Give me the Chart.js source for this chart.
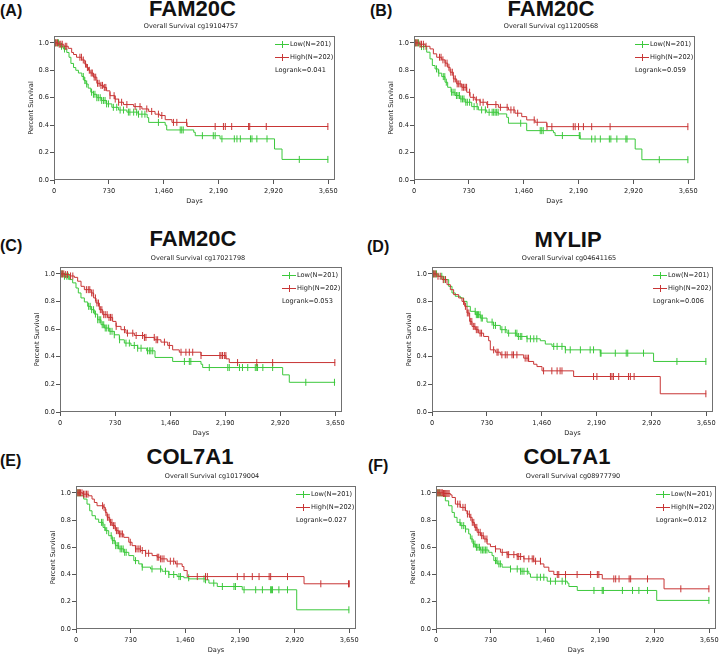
<!DOCTYPE html>
<html>
<head>
<meta charset="utf-8">
<script src="https://cdn.jsdelivr.net/npm/chart.js@4.4.1/dist/chart.umd.min.js"></script>
<style>
  body { margin: 0; width: 720px; height: 657px; background: #fff; position: relative; overflow: hidden;
         font-family: 'Liberation Sans', Arial, sans-serif; color: #111; }
  .tag { position: absolute; font-weight: bold; font-size: 16px; line-height: 1; }
  .gene { position: absolute; font-weight: bold; font-size: 22px; line-height: 1; transform: translateX(-50%); white-space: nowrap; }
  canvas { position: absolute; }
</style>
</head>
<body>
<script>
// ---- data (days / survival fraction / censored days) ----
const xTicks = [0, 730, 1460, 2190, 2920, 3650];
const yTicks = [0, 0.2, 0.4, 0.6, 0.8, 1.0];

const panelIds = ['A', 'B', 'C', 'D', 'E', 'F'];
const geneNames = ['FAM20C', 'FAM20C', 'FAM20C', 'MYLIP', 'COL7A1', 'COL7A1'];
const probeIds = ['cg19104757', 'cg11200568', 'cg17021798', 'cg04641165', 'cg10179004', 'cg08977790'];
const logrankP = ['0.041', '0.059', '0.053', '0.006', '0.027', '0.012'];
const lowLabel = 'Low(N=201)';
const highLabel = 'High(N=202)';

// (A) FAM20C cg19104757
const A_lowDays = [0, 80, 125, 170, 200, 225, 260, 290, 325, 370, 400, 425, 455, 490, 525, 570, 635, 700, 770, 860, 970, 1120, 1240, 1260, 1480, 1500, 1860, 1880, 2210, 2935, 3035, 3650];
const A_lowSurv = [1.0, 0.975, 0.955, 0.93, 0.895, 0.85, 0.82, 0.80, 0.78, 0.755, 0.725, 0.70, 0.67, 0.64, 0.625, 0.60, 0.58, 0.555, 0.53, 0.51, 0.495, 0.48, 0.455, 0.42, 0.40, 0.365, 0.348, 0.323, 0.30, 0.226, 0.15, 0.15];
const A_lowCens = [20, 45, 60, 100, 140, 390, 410, 435, 500, 525, 545, 570, 590, 615, 635, 660, 680, 700, 725, 790, 835, 880, 925, 990, 1010, 1060, 1100, 1125, 1170, 1210, 1390, 1680, 1700, 1720, 1975, 2120, 2145, 2235, 2400, 2435, 2480, 2615, 2635, 2700, 2835, 3265, 3645];
const A_highDays = [0, 60, 130, 190, 235, 260, 300, 370, 410, 435, 460, 480, 525, 570, 615, 660, 700, 745, 810, 860, 925, 1060, 1170, 1260, 1345, 1410, 1480, 1570, 1770, 3650];
const A_highSurv = [1.0, 0.99, 0.975, 0.96, 0.93, 0.915, 0.895, 0.875, 0.845, 0.82, 0.80, 0.78, 0.75, 0.705, 0.69, 0.675, 0.65, 0.615, 0.59, 0.567, 0.55, 0.535, 0.518, 0.50, 0.48, 0.47, 0.44, 0.42, 0.39, 0.39];
const A_highCens = [15, 30, 45, 70, 90, 110, 150, 170, 345, 365, 390, 420, 445, 470, 495, 510, 535, 555, 580, 600, 625, 645, 670, 690, 745, 800, 815, 860, 900, 970, 1080, 1145, 1235, 1300, 1390, 1435, 1590, 1635, 1765, 2145, 2255, 2280, 2365, 2590, 2605, 2825, 3645];

// (B) FAM20C cg11200568
const B_lowDays = [0, 80, 169, 213, 244, 280, 324, 369, 413, 448, 493, 546, 613, 680, 768, 857, 968, 1123, 1234, 1257, 1500, 1856, 1878, 2211, 2944, 3033, 3650];
const B_lowSurv = [1.0, 0.973, 0.932, 0.883, 0.835, 0.81, 0.779, 0.754, 0.713, 0.676, 0.64, 0.616, 0.591, 0.567, 0.535, 0.511, 0.494, 0.482, 0.457, 0.414, 0.36, 0.345, 0.324, 0.299, 0.226, 0.148, 0.148];
const B_lowCens = [20, 40, 60, 100, 130, 300, 330, 390, 410, 430, 500, 520, 545, 565, 585, 605, 625, 645, 665, 690, 710, 740, 800, 840, 900, 950, 1000, 1040, 1060, 1080, 1100, 1120, 1420, 1680, 1700, 1720, 1975, 2200, 2210, 2365, 2410, 2480, 2600, 2620, 2700, 2820, 2835, 3265, 3645];
const B_highDays = [0, 70, 150, 213, 258, 302, 369, 413, 448, 480, 524, 568, 635, 702, 746, 813, 879, 968, 1123, 1257, 1345, 1434, 1500, 1612, 1767, 3650];
const B_highSurv = [1.0, 0.99, 0.975, 0.956, 0.92, 0.895, 0.876, 0.852, 0.822, 0.786, 0.737, 0.701, 0.676, 0.64, 0.603, 0.584, 0.567, 0.55, 0.53, 0.511, 0.487, 0.462, 0.438, 0.421, 0.389, 0.389];
const B_highCens = [15, 30, 50, 80, 100, 125, 160, 340, 360, 385, 415, 440, 465, 490, 510, 530, 550, 575, 595, 615, 640, 660, 680, 700, 740, 790, 830, 880, 920, 980, 1090, 1150, 1240, 1290, 1330, 1380, 1600, 1640, 1770, 1835, 2120, 2145, 2190, 2255, 2365, 2610, 3645];

// (C) FAM20C cg17021798
const C_lowDays = [0, 57, 124, 168, 212, 243, 278, 323, 367, 411, 455, 499, 544, 588, 654, 720, 787, 853, 941, 1030, 1150, 1260, 1494, 1870, 1892, 2953, 3041, 3650];
const C_lowSurv = [1.0, 0.983, 0.959, 0.935, 0.898, 0.862, 0.826, 0.797, 0.765, 0.741, 0.709, 0.668, 0.632, 0.608, 0.584, 0.559, 0.523, 0.499, 0.482, 0.462, 0.443, 0.395, 0.366, 0.346, 0.322, 0.269, 0.215, 0.215];
const C_lowCens = [15, 35, 60, 90, 110, 380, 400, 420, 445, 470, 500, 520, 540, 560, 580, 600, 620, 645, 665, 690, 720, 790, 875, 920, 985, 1030, 1075, 1160, 1185, 1205, 1230, 1650, 1715, 1735, 1980, 2225, 2245, 2380, 2420, 2490, 2590, 2610, 2620, 2690, 2820, 3260, 3640];
const C_highDays = [0, 60, 130, 190, 234, 279, 323, 411, 446, 477, 522, 566, 632, 698, 743, 809, 875, 986, 1118, 1251, 1339, 1428, 1494, 1582, 1870, 2201, 2245, 3650];
const C_highSurv = [1.0, 0.995, 0.985, 0.975, 0.947, 0.91, 0.886, 0.862, 0.826, 0.789, 0.741, 0.705, 0.685, 0.656, 0.62, 0.596, 0.571, 0.554, 0.54, 0.523, 0.506, 0.482, 0.45, 0.433, 0.409, 0.385, 0.358, 0.358];
const C_highCens = [15, 30, 50, 75, 100, 140, 170, 350, 375, 395, 420, 440, 470, 490, 510, 535, 555, 580, 600, 625, 650, 670, 690, 745, 855, 895, 965, 1010, 1095, 1120, 1140, 1250, 1275, 1295, 1385, 1450, 1605, 1670, 1715, 1760, 1870, 2120, 2135, 2155, 2180, 2200, 2355, 2610, 2820, 3645];

// (D) MYLIP cg04641165
const D_lowDays = [0, 89, 155, 222, 266, 310, 377, 421, 466, 510, 577, 643, 732, 820, 909, 998, 1131, 1264, 1441, 1508, 1597, 1774, 2240, 2949, 3650];
const D_lowSurv = [1.0, 0.983, 0.959, 0.91, 0.862, 0.838, 0.826, 0.801, 0.765, 0.729, 0.705, 0.68, 0.651, 0.627, 0.596, 0.571, 0.547, 0.53, 0.516, 0.492, 0.475, 0.45, 0.426, 0.366, 0.366];
const D_lowCens = [20, 40, 60, 130, 160, 575, 590, 605, 620, 640, 655, 670, 800, 820, 845, 930, 975, 1020, 1110, 1130, 1150, 1175, 1195, 1265, 1310, 1355, 1395, 1620, 1665, 1730, 1775, 1840, 1975, 2105, 2150, 2240, 2250, 2440, 2585, 2605, 2815, 3260, 3645];
const D_highDays = [0, 67, 133, 200, 244, 288, 355, 399, 435, 466, 501, 532, 577, 621, 687, 754, 776, 843, 909, 1220, 1286, 1353, 1397, 1464, 1885, 3038, 3650];
const D_highSurv = [1.0, 0.983, 0.959, 0.922, 0.886, 0.85, 0.826, 0.801, 0.765, 0.717, 0.656, 0.62, 0.596, 0.571, 0.547, 0.516, 0.45, 0.433, 0.414, 0.39, 0.366, 0.346, 0.329, 0.298, 0.257, 0.132, 0.132];
const D_highCens = [15, 30, 50, 80, 110, 150, 180, 420, 445, 470, 490, 510, 530, 550, 570, 590, 610, 640, 660, 820, 865, 880, 930, 975, 1000, 1065, 1085, 1130, 1240, 1265, 1285, 1485, 1595, 1665, 1705, 1730, 2150, 2195, 2375, 2395, 2415, 2485, 2615, 2640, 2690, 3645];

// (E) COL7A1 cg10179004
const E_lowDays = [0, 58, 103, 147, 183, 214, 259, 303, 361, 392, 437, 482, 526, 571, 638, 705, 772, 838, 883, 995, 1151, 1240, 1351, 1441, 1507, 1730, 1775, 1887, 2221, 2948, 3650];
const E_lowSurv = [1.0, 0.978, 0.954, 0.917, 0.868, 0.832, 0.807, 0.783, 0.746, 0.722, 0.685, 0.649, 0.612, 0.588, 0.563, 0.539, 0.502, 0.478, 0.454, 0.441, 0.424, 0.40, 0.385, 0.376, 0.368, 0.361, 0.337, 0.312, 0.288, 0.141, 0.141];
const E_lowCens = [15, 30, 45, 340, 360, 385, 410, 470, 490, 510, 530, 550, 570, 590, 610, 630, 650, 670, 795, 885, 1015, 1130, 1195, 1240, 1305, 1375, 1395, 1505, 1710, 1730, 1840, 1955, 2110, 2130, 2245, 2400, 2490, 2600, 2610, 2625, 2710, 2825, 3645];
const E_highDays = [0, 90, 169, 214, 245, 281, 370, 392, 415, 450, 482, 526, 571, 638, 705, 749, 794, 861, 928, 1017, 1084, 1128, 1218, 1329, 1418, 1441, 1485, 3046, 3650];
const E_highSurv = [1.0, 0.99, 0.978, 0.954, 0.929, 0.905, 0.893, 0.856, 0.82, 0.783, 0.759, 0.722, 0.698, 0.673, 0.637, 0.612, 0.588, 0.576, 0.556, 0.539, 0.527, 0.515, 0.498, 0.478, 0.459, 0.429, 0.385, 0.332, 0.332];
const E_highCens = [15, 30, 45, 60, 80, 100, 120, 140, 160, 355, 375, 400, 420, 440, 460, 480, 500, 520, 540, 560, 580, 600, 620, 725, 795, 815, 840, 860, 885, 930, 970, 1085, 1105, 1130, 1150, 1175, 1260, 1305, 1350, 1620, 1730, 1755, 2155, 2245, 2355, 2445, 2580, 2600, 2825, 3270, 3640, 3650];

// (F) COL7A1 cg08977790
const F_lowDays = [0, 58, 125, 169, 214, 245, 281, 326, 392, 437, 459, 495, 526, 593, 705, 749, 772, 816, 883, 995, 1128, 1240, 1262, 1485, 1753, 1775, 1887, 2948, 3650];
const F_lowSurv = [1.0, 0.978, 0.941, 0.905, 0.856, 0.82, 0.783, 0.759, 0.734, 0.698, 0.661, 0.624, 0.60, 0.58, 0.563, 0.539, 0.502, 0.478, 0.454, 0.441, 0.424, 0.405, 0.38, 0.351, 0.337, 0.312, 0.283, 0.21, 0.21];
const F_lowCens = [15, 30, 45, 320, 345, 370, 395, 480, 500, 520, 540, 560, 580, 600, 620, 640, 660, 680, 795, 815, 840, 860, 995, 1085, 1130, 1150, 1175, 1220, 1350, 1395, 1440, 1530, 1595, 1685, 1730, 2110, 2220, 2235, 2490, 2625, 2710, 2825, 3645];
const F_highDays = [0, 100, 192, 214, 259, 326, 392, 415, 450, 482, 513, 549, 593, 638, 682, 727, 794, 861, 950, 1084, 1173, 1307, 1396, 1441, 1507, 1574, 2221, 3046, 3650];
const F_highSurv = [1.0, 0.995, 0.985, 0.966, 0.917, 0.893, 0.868, 0.844, 0.82, 0.783, 0.746, 0.71, 0.685, 0.661, 0.624, 0.605, 0.588, 0.563, 0.546, 0.532, 0.515, 0.498, 0.478, 0.454, 0.424, 0.40, 0.368, 0.295, 0.295];
const F_highCens = [10, 25, 40, 55, 70, 85, 100, 115, 130, 145, 160, 175, 290, 320, 360, 390, 420, 445, 465, 485, 505, 525, 545, 565, 590, 610, 630, 655, 680, 795, 885, 950, 970, 1040, 1085, 1105, 1130, 1175, 1240, 1285, 1305, 1330, 1395, 1620, 1640, 1730, 1885, 2065, 2155, 2175, 2375, 2400, 2445, 2580, 2600, 2825, 3270, 3645];

const panelSeries = [
  [A_lowDays, A_lowSurv, A_lowCens, A_highDays, A_highSurv, A_highCens],
  [B_lowDays, B_lowSurv, B_lowCens, B_highDays, B_highSurv, B_highCens],
  [C_lowDays, C_lowSurv, C_lowCens, C_highDays, C_highSurv, C_highCens],
  [D_lowDays, D_lowSurv, D_lowCens, D_highDays, D_highSurv, D_highCens],
  [E_lowDays, E_lowSurv, E_lowCens, E_highDays, E_highSurv, E_highCens],
  [F_lowDays, F_lowSurv, F_lowCens, F_highDays, F_highSurv, F_highCens]
];

// ---- layout (page pixels) ----
// plot box: left, right, top, bottom
const plotBoxes = [[54, 335, 36, 180], [414, 695, 36, 180], [60, 342, 267, 412],
                   [432, 713, 267, 412], [76, 356, 486, 629], [436, 716, 486, 629]];
const tagPos = [[0, 10.5], [370, 10.5], [0, 246], [367, 247], [0, 461], [368, 466]];
const genePos = [[192.5, 9], [551, 9], [193, 238.5], [568, 240], [190, 457], [567, 457]];
const subPos = [[191, 26], [551, 26], [198, 258], [569, 258], [212, 476], [573, 476]];
const padTop = 20;

const lowColor = '#3cc83c';
const highColor = '#c83535';
const textColor = '#222';
const axisColor = '#555';
const frameColor = '#707070';
const smallFamily = "'DejaVu Sans', Verdana, sans-serif";
const smallFont = { family: smallFamily, size: 6.6 };

function stepAt(days, surv, t) {
  let v = surv[0];
  for (let i = 0; i < days.length; i++) {
    if (days[i] <= t) v = surv[i]; else break;
  }
  return v;
}

function addText(cls, txt, x, y, size) {
  const d = document.createElement('div');
  d.className = cls;
  d.textContent = txt;
  d.style.left = x + 'px';
  d.style.top = (y - 0.49 * size) + 'px';
  document.body.appendChild(d);
}

// frame round the plot, subtitle above it, legend box inside it
const kmLegend = {
  id: 'kmLegend',
  afterDraw(chart, args, opts) {
    const { ctx, chartArea: { left, top, right, bottom } } = chart;
    ctx.save();
    ctx.strokeStyle = frameColor;
    ctx.lineWidth = 1;
    ctx.strokeRect(left + 0.5, top + 0.5, right - left - 1, bottom - top - 1);

    ctx.fillStyle = textColor;
    ctx.textBaseline = 'middle';
    ctx.textAlign = 'center';
    ctx.font = '6.5px ' + smallFamily;
    ctx.fillText(opts.sub, opts.sx, opts.sy);

    ctx.textAlign = 'left';
    ctx.font = '6.6px ' + smallFamily;
    [[lowLabel, lowColor], [highLabel, highColor]].forEach(([txt, col], k) => {
      const y = Math.round(top + 8 + k * 13.3) + 0.5;
      const x0 = right - 60;
      ctx.strokeStyle = col;
      ctx.beginPath();
      ctx.moveTo(x0, y); ctx.lineTo(x0 + 14, y);
      ctx.moveTo(x0 + 7.5, y - 3.5); ctx.lineTo(x0 + 7.5, y + 3.5);
      ctx.stroke();
      ctx.fillStyle = textColor;
      ctx.fillText(txt, right - 45, y);
    });
    ctx.fillStyle = textColor;
    ctx.fillText('Logrank=' + opts.p, right - 60, top + 34);
    ctx.restore();
  }
};

panelIds.forEach((id, i) => {
  const [L, R, T, B] = plotBoxes[i];
  const [lowDays, lowSurv, lowCens, highDays, highSurv, highCens] = panelSeries[i];

  addText('tag', '(' + id + ')', tagPos[i][0], tagPos[i][1], 16);
  addText('gene', geneNames[i], genePos[i][0], genePos[i][1], 22);

  const cx = L - 32, cy = T - padTop;
  const cv = document.createElement('canvas');
  cv.width = R - L + 44;
  cv.height = B - T + padTop + 28;
  cv.style.left = cx + 'px';
  cv.style.top = cy + 'px';
  document.body.appendChild(cv);

  const curve = (days, surv) => days.map((d, k) => ({ x: d, y: surv[k] }));
  const marks = (cens, days, surv) => cens.map(c => ({ x: c, y: stepAt(days, surv, c) }));

  new Chart(cv, {
    type: 'line',
    data: {
      datasets: [
        { data: marks(highCens, highDays, highSurv), showLine: false, pointStyle: 'line', rotation: 90,
          pointRadius: 3.5, borderColor: highColor, pointBorderWidth: 1 },
        { data: curve(highDays, highSurv), stepped: 'before', borderColor: highColor, borderWidth: 1, pointRadius: 0 },
        { data: marks(lowCens, lowDays, lowSurv), showLine: false, pointStyle: 'line', rotation: 90,
          pointRadius: 3.5, borderColor: lowColor, pointBorderWidth: 1 },
        { data: curve(lowDays, lowSurv), stepped: 'before', borderColor: lowColor, borderWidth: 1, pointRadius: 0 }
      ]
    },
    options: {
      responsive: false,
      animation: false,
      devicePixelRatio: 1,
      layout: { padding: { top: padTop, right: 12, left: 0, bottom: 0 } },
      plugins: {
        legend: { display: false },
        tooltip: { enabled: false },
        kmLegend: { p: logrankP[i], sub: 'Overall Survival ' + probeIds[i], sx: subPos[i][0] - cx, sy: subPos[i][1] - cy }
      },
      scales: {
        x: {
          type: 'linear', min: 0, max: 3740,
          afterBuildTicks: s => { s.ticks = xTicks.map(v => ({ value: v })); },
          afterFit: s => { s.height = 28; },
          grid: { drawOnChartArea: false, drawTicks: true, tickLength: 4, color: axisColor },
          border: { display: false },
          ticks: { font: smallFont, color: textColor, padding: 3, maxRotation: 0, autoSkip: false,
                   callback: v => v.toLocaleString('en-US') },
          title: { display: true, text: 'Days', font: smallFont, color: textColor, padding: { top: 0, bottom: 3 } }
        },
        y: {
          min: 0, max: 1.05,
          afterBuildTicks: s => { s.ticks = yTicks.map(v => ({ value: v })); },
          afterFit: s => { s.width = 32; },
          grid: { drawOnChartArea: false, drawTicks: true, tickLength: 4, color: axisColor },
          border: { display: false },
          ticks: { font: smallFont, color: textColor, padding: 1, callback: v => v.toFixed(1) },
          title: { display: true, text: 'Percent Survival', font: smallFont, color: textColor, padding: { top: 5, bottom: 0 } }
        }
      }
    },
    plugins: [kmLegend]
  });
});
</script>
</body>
</html>
